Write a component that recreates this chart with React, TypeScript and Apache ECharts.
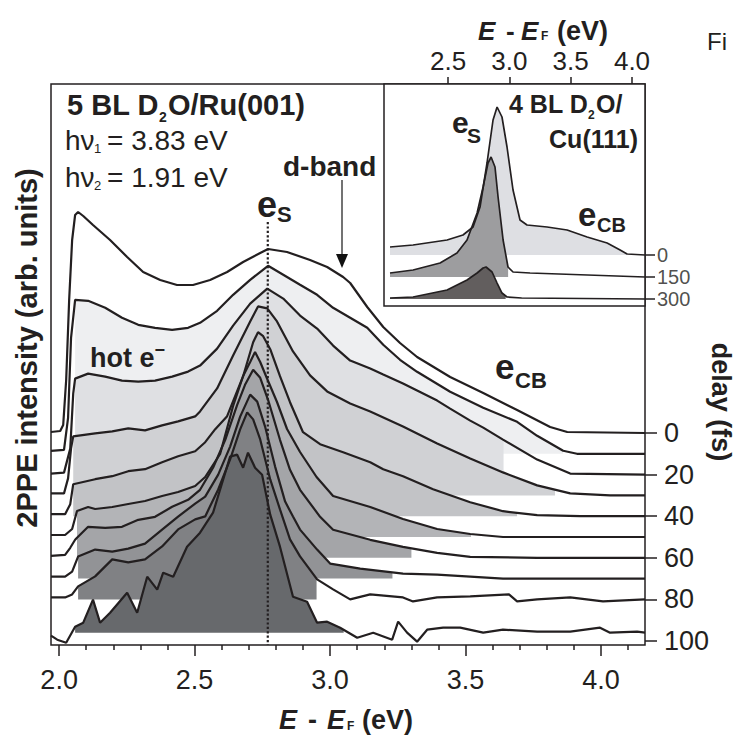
import React, { useEffect, useRef } from 'react';
import * as echarts from 'echarts';

const FONT = '"Liberation Sans", Arial, Helvetica, sans-serif';
const INK = '#231f20';

// ---------- main panel: 5 BL D2O/Ru(001) ----------
const delays = [0, 10, 20, 30, 40, 50, 60, 70, 80, 96]; // fs
const OFFSET_PER_FS = 2.08; // arb. units of vertical offset per fs of delay
const delayTickLabels = [0, 20, 40, 60, 80, 100];
const majorTicksE = [2.0, 2.5, 3.0, 3.5, 4.0];
const minorTicksE = [2.1, 2.2, 2.3, 2.4, 2.6, 2.7, 2.8, 2.9, 3.1, 3.2, 3.3, 3.4, 3.6, 3.7, 3.8, 3.9, 4.1];
const MAIN_E_MIN = 1.97;
const MAIN_E_MAX = 4.162;
const MAIN_Y_MIN = -212;
const MAIN_Y_MAX = 349;
const ES_ENERGY = 2.77;
const ES_LINE_TOP = 211;

// spectra: [E - EF (eV), intensity above own baseline (arb. units)]
const s0 = [[1.970,1],[2.004,2],[2.015,8],[2.026,53],[2.037,133],[2.048,193],[2.059,218],[2.070,221],[2.089,217],[2.125,208],[2.188,193],[2.251,176],[2.310,161],[2.373,153],[2.435,148],[2.494,148],[2.557,153],[2.620,161],[2.679,171],[2.742,180],[2.771,184],[2.841,181],[2.926,173],[2.989,166],[3.048,156],[3.074,150],[3.137,126],[3.196,106],[3.258,90],[3.321,76],[3.443,56],[3.565,40],[3.690,23],[3.812,6],[3.875,1],[4.162,0]];
const s10 = [[1.970,3],[2.018,4],[2.033,36],[2.044,116],[2.059,154],[2.107,153],[2.170,146],[2.232,136],[2.292,129],[2.354,126],[2.417,124],[2.476,126],[2.520,131],[2.583,143],[2.642,159],[2.705,174],[2.771,188],[2.827,179],[2.889,169],[2.952,159],[3.011,146],[3.074,136],[3.137,126],[3.196,109],[3.258,94],[3.321,82],[3.443,62],[3.565,46],[3.690,32],[3.764,18],[3.860,3],[3.911,0],[4.162,0]];
const s20 = [[1.970,1],[2.018,2],[2.041,26],[2.052,81],[2.059,96],[2.107,101],[2.170,98],[2.232,94],[2.292,93],[2.354,94],[2.417,98],[2.476,103],[2.520,109],[2.583,126],[2.642,149],[2.705,171],[2.768,186],[2.827,176],[2.889,159],[2.952,146],[3.011,129],[3.074,114],[3.148,106],[3.196,100],[3.269,91],[3.321,84],[3.395,74],[3.443,66],[3.517,54],[3.565,47],[3.638,35],[3.764,15],[3.886,1],[4.162,0]];
const s30 = [[1.970,2],[2.018,2],[2.033,17],[2.044,47],[2.052,59],[2.133,62],[2.196,64],[2.255,67],[2.317,65],[2.380,70],[2.439,74],[2.502,79],[2.520,84],[2.583,107],[2.642,140],[2.705,174],[2.734,189],[2.768,187],[2.804,174],[2.863,144],[2.926,120],[2.989,104],[3.074,92],[3.148,84],[3.269,69],[3.395,52],[3.517,37],[3.638,23],[3.764,10],[3.886,2],[4.033,0],[4.162,0]];
const s40 = [[1.970,2],[2.022,2],[2.041,12],[2.052,32],[2.133,37],[2.196,40],[2.255,45],[2.317,47],[2.380,54],[2.439,60],[2.502,65],[2.539,74],[2.576,87],[2.620,100],[2.679,140],[2.716,174],[2.734,184],[2.753,180],[2.779,167],[2.815,140],[2.852,114],[2.900,84],[2.963,72],[3.048,64],[3.148,54],[3.196,47],[3.269,40],[3.380,27],[3.517,14],[3.638,5],[3.764,1],[3.923,0],[4.162,0]];
const s50 = [[1.970,2],[2.022,2],[2.048,8],[2.066,26],[2.107,30],[2.133,28],[2.196,30],[2.255,33],[2.317,36],[2.380,41],[2.439,45],[2.502,51],[2.539,60],[2.594,83],[2.642,131],[2.679,161],[2.705,175],[2.723,185],[2.742,175],[2.768,158],[2.804,135],[2.841,108],[2.889,85],[2.950,60],[3.011,41],[3.148,30],[3.269,18],[3.395,8],[3.517,3],[3.638,0],[4.162,0]];
const s60 = [[1.970,2],[2.022,3],[2.041,10],[2.059,18],[2.066,20],[2.107,31],[2.170,30],[2.232,31],[2.292,38],[2.354,41],[2.417,51],[2.476,58],[2.520,68],[2.568,90],[2.613,118],[2.657,153],[2.686,173],[2.716,188],[2.742,180],[2.771,158],[2.815,118],[2.852,88],[2.889,68],[2.963,41],[3.011,28],[3.148,18],[3.269,11],[3.395,5],[3.517,1],[3.764,0],[4.162,0]];
const s70 = [[1.970,2],[2.022,2],[2.048,7],[2.070,22],[2.133,29],[2.196,27],[2.255,30],[2.317,35],[2.380,49],[2.439,62],[2.502,75],[2.539,82],[2.587,104],[2.631,132],[2.668,162],[2.705,184],[2.731,177],[2.760,152],[2.797,112],[2.834,77],[2.863,62],[2.889,49],[2.952,29],[3.000,15],[3.111,10],[3.269,5],[3.395,4],[3.517,2],[3.638,0],[4.162,0]];
const s80 = [[1.970,2],[2.022,2],[2.048,5],[2.070,13],[2.133,23],[2.196,40],[2.255,37],[2.317,40],[2.380,53],[2.439,70],[2.502,80],[2.539,83],[2.587,110],[2.631,140],[2.668,170],[2.694,187],[2.716,180],[2.742,160],[2.779,120],[2.815,90],[2.852,60],[2.889,43],[2.952,20],[3.011,10],[3.074,0],[3.148,5],[3.269,2],[3.306,-2],[3.395,2],[3.517,3],[3.660,5],[3.690,-2],[3.764,0],[3.886,2],[4.007,-2],[4.162,0]];
const s96 = [[1.970,-3],[1.993,-7],[2.026,-10],[2.059,6],[2.089,10],[2.125,33],[2.151,10],[2.188,20],[2.251,40],[2.288,20],[2.325,56],[2.362,43],[2.384,60],[2.421,56],[2.472,86],[2.520,100],[2.568,120],[2.631,176],[2.657,178],[2.679,165],[2.697,180],[2.723,165],[2.749,158],[2.779,118],[2.815,86],[2.863,36],[2.915,31],[2.952,10],[2.989,11],[3.037,5],[3.100,-5],[3.159,0],[3.229,-7],[3.251,11],[3.284,0],[3.321,-9],[3.358,3],[3.417,5],[3.480,5],[3.565,0],[3.638,3],[3.764,1],[3.886,1],[3.996,5],[4.033,0],[4.133,1],[4.162,0]];
const mainSpectra = [s0, s10, s20, s30, s40, s50, s60, s70, s80, s96];
const mainFillColors = ['none', '#eeeff1', '#dfe0e3', '#d0d1d4', '#c2c3c6', '#b3b4b7', '#a4a5a8', '#929396', '#808184', '#67696c'];
const mainFillRanges: (number[] | null)[] = [null, [2.059, 3.86], [2.059, 3.64], [2.052, 3.83], [2.052, 3.69], [2.066, 3.52], [2.066, 3.30], [2.070, 3.23], [2.070, 2.95], [2.059, 3.05]];

// ---------- inset: 4 BL D2O/Cu(111) ----------
const insetDelays = [0, 150, 300];
const INSET_OFFSET_PER_FS = 0.1467;
const insetTicksE = [2.5, 3.0, 3.5, 4.0];
const INSET_E_MIN = 1.978;
const INSET_E_MAX = 4.106;
const INSET_Y_MIN = -51;
const INSET_Y_MAX = 171;
const i0 = [[2.027,8],[2.215,10],[2.492,15],[2.622,20],[2.704,28],[2.761,48],[2.818,92],[2.867,135],[2.900,148],[2.940,138],[2.981,108],[3.030,65],[3.087,35],[3.144,30],[3.308,28],[3.471,25],[3.634,18],[3.797,12],[3.903,5],[3.960,1],[4.106,0]];
const i150 = [[2.027,4],[2.215,7],[2.435,14],[2.573,24],[2.655,37],[2.737,64],[2.786,90],[2.826,114],[2.851,120],[2.883,110],[2.908,80],[2.949,37],[2.989,10],[3.030,5],[3.169,4],[4.106,0]];
const i300 = [[2.027,1],[2.215,2],[2.492,9],[2.655,19],[2.737,26],[2.786,31],[2.810,32],[2.859,27],[2.900,16],[2.940,6],[2.981,2],[3.100,1],[4.106,0]];
const insetSpectra = [i0, i150, i300];
const insetFillColors = ['#dedfe3', '#9d9d9f', '#625e5e'];
const insetFillRanges = [[2.027, 3.96], [2.027, 2.99], [2.027, 2.97]];

function interp(spec: number[][], e: number): number {
  for (let i = 0; i < spec.length - 1; i++) {
    const a = spec[i], b = spec[i + 1];
    if (e >= a[0] && e <= b[0]) {
      const t = (e - a[0]) / (b[0] - a[0] || 1);
      return a[1] + t * (b[1] - a[1]);
    }
  }
  return 0;
}

function fillSeries(spec: number[][], base: number, range: number[], color: string, xi: number, yi: number) {
  return {
    type: 'custom',
    xAxisIndex: xi,
    yAxisIndex: yi,
    silent: true,
    clip: true,
    data: [[range[0], base]],
    encode: { x: 0, y: 1 },
    renderItem: (_p: any, api: any) => {
      const pts: number[][] = [];
      pts.push(api.coord([range[0], base]));
      pts.push(api.coord([range[0], base + Math.max(0, interp(spec, range[0]))]));
      spec.forEach((p) => {
        if (p[0] > range[0] && p[0] < range[1]) pts.push(api.coord([p[0], base + Math.max(0, p[1])]));
      });
      pts.push(api.coord([range[1], base + Math.max(0, interp(spec, range[1]))]));
      pts.push(api.coord([range[1], base]));
      return { type: 'polygon', shape: { points: pts }, style: { fill: color, stroke: 'none' } };
    },
  };
}

function lineSeries(spec: number[][], base: number, xi: number, yi: number, width: number) {
  return {
    type: 'line',
    xAxisIndex: xi,
    yAxisIndex: yi,
    silent: true,
    symbol: 'none',
    showSymbol: false,
    clip: true,
    data: spec.map((p) => [p[0], base + p[1]]),
    lineStyle: { color: INK, width },
  };
}

function txt(text: string, x: number, y: number, size: number, opts: any = {}) {
  return {
    type: 'text',
    x,
    y,
    rotation: opts.rotation || 0,
    z: 100,
    silent: true,
    style: {
      text,
      fontSize: size,
      fontFamily: FONT,
      fontWeight: opts.weight || 'bold',
      fontStyle: opts.italic ? 'italic' : 'normal',
      fill: INK,
      align: opts.align || 'left',
      verticalAlign: 'middle',
    },
  };
}

function buildOption() {
  const series: any[] = [];
  mainSpectra.forEach((spec, i) => {
    const r = mainFillRanges[i];
    if (r) series.push(fillSeries(spec, -delays[i] * OFFSET_PER_FS, r, mainFillColors[i], 0, 0));
  });
  insetSpectra.forEach((spec, i) => {
    series.push(fillSeries(spec, -insetDelays[i] * INSET_OFFSET_PER_FS, insetFillRanges[i], insetFillColors[i], 2, 1));
  });
  mainSpectra.forEach((spec, i) => series.push(lineSeries(spec, -delays[i] * OFFSET_PER_FS, 0, 0, 2.2)));
  insetSpectra.forEach((spec, i) => series.push(lineSeries(spec, -insetDelays[i] * INSET_OFFSET_PER_FS, 2, 1, 1.7)));
  series.push({
    type: 'line',
    xAxisIndex: 0,
    yAxisIndex: 0,
    silent: true,
    symbol: 'none',
    data: [[ES_ENERGY, ES_LINE_TOP], [ES_ENERGY, MAIN_Y_MIN]],
    lineStyle: { color: INK, width: 2.2, type: [2.2, 2.2] },
    z: 5,
  });
  // inset delay labels (0 / 150 / 300 fs), placed at each spectrum's baseline on the right edge
  const labelNudge = [-2, 0, 2];
  series.push({
    type: 'scatter',
    xAxisIndex: 2,
    yAxisIndex: 1,
    silent: true,
    clip: false,
    symbolSize: 0,
    data: insetDelays.map((d, i) => ({
      value: [INSET_E_MAX, -d * INSET_OFFSET_PER_FS, d],
      label: { offset: [0, labelNudge[i]] },
    })),
    label: {
      show: true,
      position: 'right',
      distance: 12,
      formatter: (p: any) => String(p.value[2]),
      fontSize: 20,
      lineHeight: 19,
      color: INK,
      fontFamily: FONT,
    },
    labelLayout: { hideOverlap: false },
    z: 10,
  });

  const tickStyle = { color: INK, width: 1.5 };
  const mainDelayTickValues = delayTickLabels.map((d) => -d * OFFSET_PER_FS);
  const insetDelayTickValues = insetDelays.map((d) => -d * INSET_OFFSET_PER_FS);

  const graphic: any[] = [
    txt('5 BL D', 67, 105, 29),
    txt('2', 159, 117, 14),
    txt('O/Ru(001)', 168, 105, 29),
    txt('h\u03bd', 65, 140, 28, { weight: 'normal' }),
    txt('1', 94, 148, 13, { weight: 'normal' }),
    txt('= 3.83 eV', 107, 140, 28, { weight: 'normal' }),
    txt('h\u03bd', 65, 177, 28, { weight: 'normal' }),
    txt('2', 94, 185, 13, { weight: 'normal' }),
    txt('= 1.91 eV', 107, 177, 28, { weight: 'normal' }),
    txt('d-band', 283, 166, 28),
    {
      type: 'line', z: 100, silent: true,
      shape: { x1: 342, y1: 180, x2: 342, y2: 256 },
      style: { stroke: '#444', lineWidth: 1.5 },
    },
    {
      type: 'polygon', z: 100, silent: true,
      shape: { points: [[336, 254], [348, 254], [342, 268]] },
      style: { fill: '#111' },
    },
    txt('e', 257, 204, 36),
    txt('S', 277, 214, 22),
    {
      type: 'text', x: 90, y: 356, z: 100, silent: true,
      style: {
        text: '{m|hot e}{s|\u2212}',
        fontFamily: FONT, fill: INK, align: 'left', verticalAlign: 'middle',
        rich: {
          m: { fontSize: 27, fontWeight: 'bold', fontFamily: FONT, fill: INK, verticalAlign: 'bottom' },
          s: { fontSize: 18, fontWeight: 'bold', fontFamily: FONT, fill: INK, verticalAlign: 'bottom', padding: [0, 0, 13, 0] },
        },
      },
    },
    txt('e', 495, 366, 35),
    txt('CB', 515, 380, 22),
    txt('4 BL D', 509, 104, 25),
    txt('2', 588, 115, 12),
    txt('O/', 596, 104, 25),
    txt('Cu(111)', 638, 139, 25, { align: 'right' }),
    txt('e', 452, 122, 30),
    txt('S', 467, 135, 21),
    txt('e', 578, 214, 33),
    txt('CB', 597, 225, 20),
    // bottom axis title
    txt('E', 279, 720, 27, { italic: true }),
    txt('-', 308, 720, 27),
    txt('E', 327, 720, 27, { italic: true }),
    txt('F', 347, 726, 12),
    txt('(eV)', 362, 720, 27),
    // inset top axis title
    txt('E', 478, 31, 26, { italic: true }),
    txt('-', 506, 31, 26),
    txt('E', 521, 31, 26, { italic: true }),
    txt('F', 541, 36, 12),
    txt('(eV)', 557, 31, 27),
    txt('2PPE intensity (arb. units)', 27, 348, 29, { rotation: Math.PI / 2, align: 'center' }),
    txt('delay (fs)', 721, 402, 27, { rotation: -Math.PI / 2, align: 'center' }),
    txt('Fi', 707, 41, 24, { weight: 'normal' }),
  ];

  const noLine = { show: false, onZero: false };

  return {
    animation: false,
    backgroundColor: '#ffffff',
    textStyle: { fontFamily: FONT },
    grid: [
      { left: 51, top: 84, width: 594, height: 561, show: true, borderColor: INK, borderWidth: 1.5, backgroundColor: 'transparent', containLabel: false },
      { left: 384, top: 84, width: 261, height: 222, show: true, borderColor: INK, borderWidth: 1.5, backgroundColor: '#ffffff', containLabel: false },
    ],
    xAxis: [
      {
        type: 'value', gridIndex: 0, position: 'bottom', min: MAIN_E_MIN, max: MAIN_E_MAX,
        axisLine: noLine, splitLine: { show: false },
        axisTick: { show: true, length: 11, lineStyle: tickStyle, customValues: majorTicksE },
        axisLabel: { show: true, hideOverlap: false, customValues: majorTicksE, formatter: (v: number) => v.toFixed(1), fontSize: 27, color: INK, margin: 21, fontFamily: FONT },
      },
      {
        type: 'value', gridIndex: 0, position: 'bottom', min: MAIN_E_MIN, max: MAIN_E_MAX,
        axisLine: noLine, splitLine: { show: false },
        axisTick: { show: true, length: 5, lineStyle: tickStyle, customValues: minorTicksE },
        axisLabel: { show: false },
      },
      {
        type: 'value', gridIndex: 1, position: 'top', min: INSET_E_MIN, max: INSET_E_MAX,
        axisLine: noLine, splitLine: { show: false },
        axisTick: { show: true, length: 7, lineStyle: tickStyle, customValues: insetTicksE },
        axisLabel: { show: true, hideOverlap: false, customValues: insetTicksE, formatter: (v: number) => v.toFixed(1), fontSize: 26, color: INK, margin: 10, fontFamily: FONT },
      },
    ],
    yAxis: [
      {
        type: 'value', gridIndex: 0, position: 'right', min: MAIN_Y_MIN, max: MAIN_Y_MAX,
        axisLine: noLine, splitLine: { show: false },
        axisTick: { show: true, length: 12, lineStyle: tickStyle, customValues: mainDelayTickValues },
        axisLabel: { show: true, hideOverlap: false, customValues: mainDelayTickValues, formatter: (v: number) => String(Math.round(-v / OFFSET_PER_FS)), fontSize: 27, color: INK, margin: 19, fontFamily: FONT },
      },
      {
        type: 'value', gridIndex: 1, position: 'right', min: INSET_Y_MIN, max: INSET_Y_MAX,
        axisLine: noLine, splitLine: { show: false },
        axisTick: { show: true, length: 10, lineStyle: tickStyle, customValues: insetDelayTickValues },
        axisLabel: { show: false },
      },
    ],
    series,
    graphic,
  };
}

export default function App() {
  const ref = useRef<HTMLDivElement>(null);
  useEffect(() => {
    document.body.style.margin = '0';
    const chart = echarts.init(ref.current as HTMLDivElement, null, { renderer: 'svg' });
    chart.setOption(buildOption() as any);
    return () => chart.dispose();
  }, []);
  return <div ref={ref} style={{ width: 735, height: 736 }} />;
}
